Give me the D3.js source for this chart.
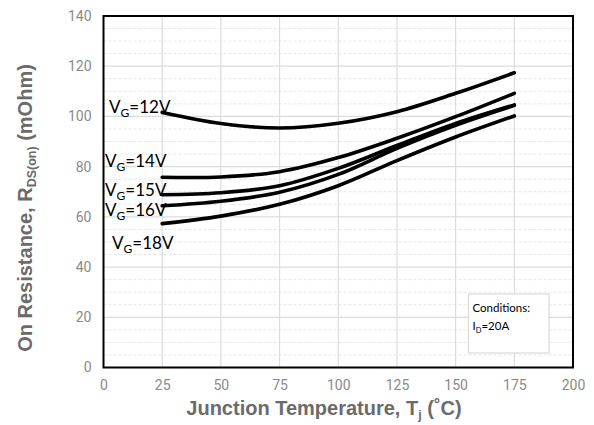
<!DOCTYPE html>
<html>
<head>
<meta charset="utf-8">
<script src="https://cdn.jsdelivr.net/npm/d3@7"></script>
<style>
  body { margin: 0; background: #fff; }
  svg { display: block; }
</style>
</head>
<body>
<svg id="chart" width="594" height="425"></svg>
<script>
// ---- data ----
const temps = [25, 50, 75, 100, 125, 150, 175];
const vg12 = [101.6, 97.2, 95.4, 97.3, 101.9, 109.2, 117.4];
const vg14 = [75.8, 75.9, 78.0, 83.6, 91.3, 99.9, 109.2];
const vg15 = [68.8, 69.6, 72.4, 79.3, 88.4, 97.2, 104.6];
const vg16 = [64.4, 66.2, 69.8, 76.9, 87.3, 96.5, 104.4];
const vg18 = [57.3, 60.3, 65.0, 72.4, 82.4, 91.8, 100.2];
const seriesNames = ["12", "14", "15", "16", "18"];
const xTicks = [0, 25, 50, 75, 100, 125, 150, 175, 200];
const yTicks = [0, 20, 40, 60, 80, 100, 120, 140];
const yMinor = d3.range(0, 141, 5);

const series = [vg12, vg14, vg15, vg16, vg18];

// ---- layout ----
const svg = d3.select("#chart");
const L = 103.5, R = 573, T = 16, B = 367.5;
const x = d3.scaleLinear().domain([0, 200]).range([L, R]);
const y = d3.scaleLinear().domain([0, 140]).range([B, T]);

// minor gridlines (dashed)
svg.append("g").selectAll("line").data(yMinor.filter(v => v % 20 !== 0)).join("line")
  .attr("x1", L).attr("x2", R).attr("y1", d => y(d)).attr("y2", d => y(d))
  .attr("stroke", "#e6e6e6").attr("stroke-width", 1).attr("stroke-dasharray", "3,2");

// major gridlines
svg.append("g").selectAll("line").data(yTicks).join("line")
  .attr("x1", L).attr("x2", R).attr("y1", d => y(d)).attr("y2", d => y(d))
  .attr("stroke", "#dcdcdc").attr("stroke-width", 1.2);
svg.append("g").selectAll("line").data(xTicks).join("line")
  .attr("y1", T).attr("y2", B).attr("x1", d => x(d)).attr("x2", d => x(d))
  .attr("stroke", "#dcdcdc").attr("stroke-width", 1.2);

// axes labels via d3 axes
const xAxis = svg.append("g").attr("transform", `translate(0,${B})`)
  .call(d3.axisBottom(x).tickValues(xTicks).tickSize(0).tickPadding(13));
const yAxis = svg.append("g").attr("transform", `translate(${L},0)`)
  .call(d3.axisLeft(y).tickValues(yTicks).tickSize(0).tickPadding(12));
[xAxis, yAxis].forEach(g => {
  g.select(".domain").remove();
  g.selectAll("text").attr("font-family", "Roboto, 'Liberation Sans', Arial, sans-serif")
    .attr("font-size", 14).attr("fill", "#8a8a8a");
});

// frame
svg.append("rect").attr("x", L).attr("y", T).attr("width", R - L).attr("height", B - T)
  .attr("fill", "none").attr("stroke", "#000").attr("stroke-width", 2);

// curves
const line = d3.line().x((d, i) => x(temps[i])).y(d => y(d)).curve(d3.curveCatmullRom.alpha(0.5));
svg.append("g").selectAll("path").data(series).join("path")
  .attr("d", d => line(d))
  .attr("fill", "none").attr("stroke", "#000").attr("stroke-width", 3.6)
  .attr("stroke-linecap", "round");

// curve labels
const labelPos = [[109, 113], [105, 167], [105, 196], [105, 216], [112, 249]];
const labFont = "Lato, 'Open Sans', sans-serif";
seriesNames.forEach((n, i) => {
  const t = svg.append("text").attr("x", labelPos[i][0]).attr("y", labelPos[i][1])
    .attr("font-family", labFont).attr("font-size", 17).attr("fill", "#000");
  t.append("tspan").text("V");
  t.append("tspan").attr("font-size", 12).attr("dy", 4).text("G");
  t.append("tspan").attr("dy", -4).text("=" + n + "V");
});

// conditions box
svg.append("rect").attr("x", 468.5).attr("y", 294).attr("width", 80.5).attr("height", 59)
  .attr("fill", "#fff").attr("stroke", "#d9d9d9").attr("stroke-width", 1.2);
svg.append("text").attr("x", 472.5).attr("y", 312).attr("font-family", labFont)
  .attr("font-size", 11.5).attr("fill", "#000").text("Conditions:");
const c2 = svg.append("text").attr("x", 472.5).attr("y", 330).attr("font-family", labFont)
  .attr("font-size", 11.5).attr("fill", "#000");
c2.append("tspan").text("I");
c2.append("tspan").attr("font-size", 7.5).attr("dy", 3).text("D");
c2.append("tspan").attr("dy", -3).text("=20A");

// axis titles
const titleFont = "'Liberation Sans', Arial, sans-serif";
const xt = svg.append("text").attr("x", 324).attr("y", 415).attr("text-anchor", "middle")
  .attr("font-family", titleFont).attr("font-weight", "bold").attr("font-size", 20).attr("fill", "#6b6b6b");
xt.append("tspan").text("Junction Temperature, T");
xt.append("tspan").attr("font-size", 12.5).attr("dy", 4).text("j");
xt.append("tspan").attr("dy", -4).text(" (˚C)");

const yt = svg.append("text").attr("transform", "translate(32,208) rotate(-90)").attr("text-anchor", "middle")
  .attr("font-family", titleFont).attr("font-weight", "bold").attr("font-size", 20).attr("fill", "#6b6b6b");
yt.append("tspan").text("On Resistance, R");
yt.append("tspan").attr("font-size", 12.5).attr("dy", 4).text("DS(on)");
yt.append("tspan").attr("dy", -4).text(" (mOhm)");
</script>
</body>
</html>
